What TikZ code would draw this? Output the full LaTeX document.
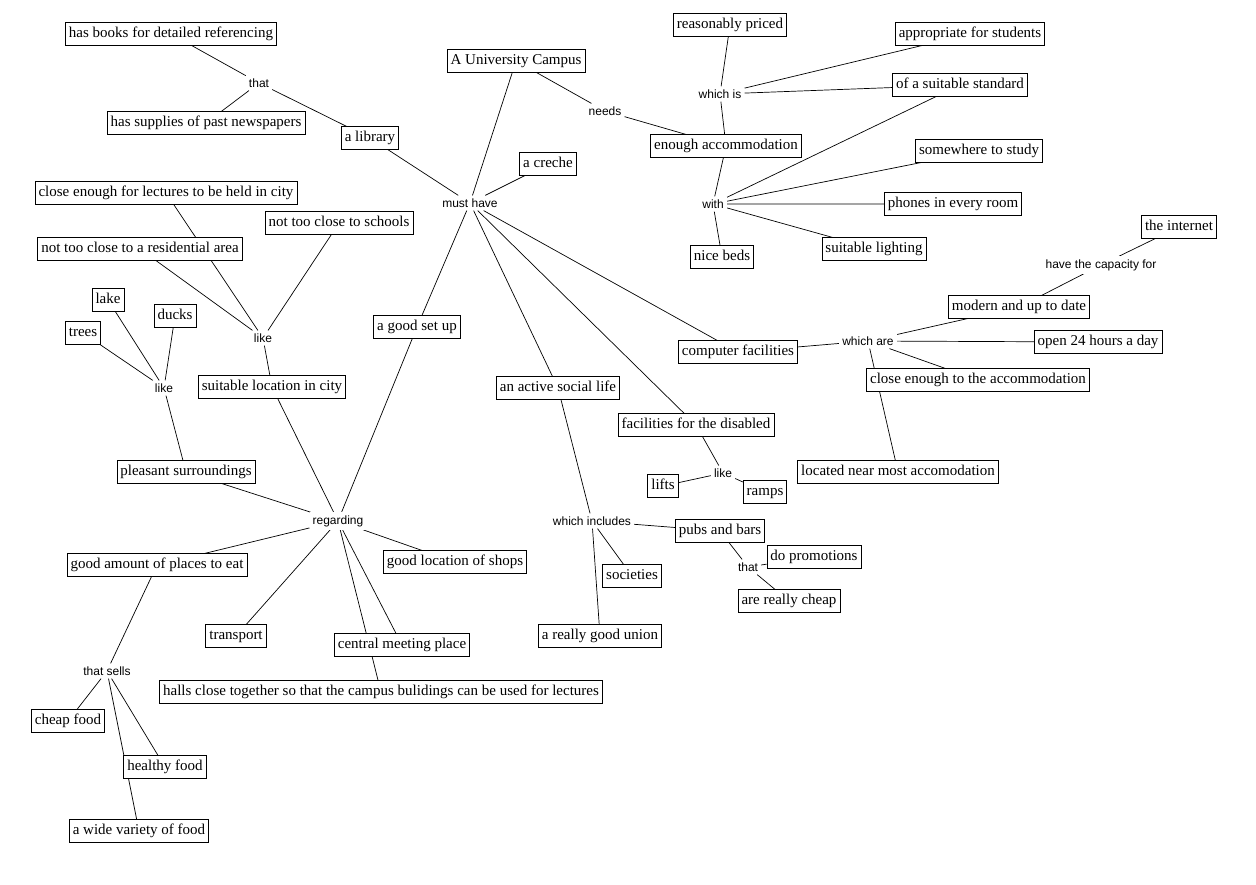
\documentclass[tikz,border=0pt]{standalone}
\usepackage{fontspec}
\setmainfont{Liberation Serif}
\setsansfont{Liberation Sans}
\usetikzlibrary{backgrounds}

\begin{document}
\begin{tikzpicture}[x=1pt,y=-1pt,
    concept/.style={draw,fill=white,line width=.7pt,font=\fontsize{15}{17}\selectfont,
        inner xsep=3.5pt,inner ysep=4pt,text height=11pt,text depth=3.5pt},
    link/.style={fill=white,font=\sffamily\fontsize{12}{14}\selectfont,inner sep=3pt},
    wire/.style={line width=.7pt}]
    \useasboundingbox (0,0) rectangle (1256,884);

    \node[concept] (campus) at (516,61) {A University Campus};
    \node[link] (musthave) at (470,203) {must have};
    \node[link] (needs) at (605,111) {needs};

    \node[concept] (books) at (171,34) {has books for detailed referencing};
    \node[concept] (supplies) at (206,123) {has supplies of past newspapers};
    \node[link] (thatA) at (259,83) {that};
    \node[concept] (library) at (370,138) {a library};
    \node[concept] (creche) at (548,164) {a creche};

    \node[concept] (accom) at (726,146) {enough accommodation};
    \node[link] (whichis) at (720,94) {which is};
    \node[concept] (priced) at (730,25) {reasonably priced};
    \node[concept] (students) at (970,34) {appropriate for students};
    \node[concept] (standard) at (960,85) {of a suitable standard};
    \node[link] (with) at (713,204) {with};
    \node[concept] (study) at (979,151) {somewhere to study};
    \node[concept] (phones) at (953,204) {phones in every room};
    \node[concept] (beds) at (722,257) {nice beds};
    \node[concept] (lighting) at (874,249) {suitable lighting};

    \node[concept] (computer) at (738,352) {computer facilities};
    \node[link] (whichare) at (868,341) {which are};
    \node[concept] (modern) at (1019,307) {modern and up to date};
    \node[link] (capacity) at (1101,265) {have the capacity for};
    \node[concept] (internet) at (1179,227) {the internet};
    \node[concept] (open) at (1098,342) {open 24 hours a day};
    \node[concept] (closeacc) at (978,380) {close enough to the accommodation};
    \node[concept] (located) at (898,472) {located near most accomodation};

    \node[concept] (lectures) at (166,193) {close enough for lectures to be held in city};
    \node[concept] (schools) at (339,223) {not too close to schools};
    \node[concept] (residential) at (140,249) {not too close to a residential area};
    \node[link] (likeA) at (263,338) {like};
    \node[concept] (location) at (272,387) {suitable location in city};
    \node[concept] (lake) at (108,300) {lake};
    \node[concept] (ducks) at (175,316) {ducks};
    \node[concept] (trees) at (83,333) {trees};
    \node[link] (likeB) at (164,388) {like};
    \node[concept] (pleasant) at (186,472) {pleasant surroundings};
    \node[concept] (setup) at (417,327) {a good set up};

    \node[link] (regarding) at (338,521) {regarding};
    \node[concept] (eat) at (157,565) {good amount of places to eat};
    \node[concept] (shops) at (455,562) {good location of shops};
    \node[concept] (transport) at (236,636) {transport};
    \node[concept] (meeting) at (402,645) {central meeting place};
    \node[concept] (halls) at (381,692) {halls close together so that the campus bulidings can be used for lectures};
    \node[link] (sells) at (107,671) {that sells};
    \node[concept] (cheapfood) at (68,721) {cheap food};
    \node[concept] (healthy) at (165,767) {healthy food};
    \node[concept] (variety) at (139,831) {a wide variety of food};

    \node[concept] (social) at (558,388) {an active social life};
    \node[link] (includes) at (592,521) {which includes};
    \node[concept] (pubs) at (720,531) {pubs and bars};
    \node[link] (thatB) at (748,567) {that};
    \node[concept] (promotions) at (814,557) {do promotions};
    \node[concept] (cheap) at (789,601) {are really cheap};
    \node[concept] (societies) at (632,576) {societies};
    \node[concept] (union) at (600,636) {a really good union};

    \node[concept] (disabled) at (696,425) {facilities for the disabled};
    \node[link] (likeC) at (723,473) {like};
    \node[concept] (lifts) at (663,486) {lifts};
    \node[concept] (ramps) at (765,492) {ramps};

    \begin{scope}[on background layer]
        \draw[wire] (books) -- (thatA) (supplies) -- (thatA) (thatA) -- (library) (library) -- (musthave);
        \draw[wire] (campus) -- (musthave) (campus) -- (needs) (needs) -- (accom);
        \draw[wire] (musthave) -- (creche) (musthave) -- (setup) (musthave) -- (social) (musthave) -- (disabled) (musthave) -- (computer);
        \draw[wire] (priced) -- (whichis) (whichis) -- (accom) (whichis) -- (students) (whichis) -- (standard);
        \draw[wire] (accom) -- (with) (with) -- (standard) (with) -- (study) (with) -- (phones) (with) -- (lighting) (with) -- (beds);
        \draw[wire] (computer) -- (whichare) (whichare) -- (modern) (whichare) -- (open) (whichare) -- (closeacc) (whichare) -- (located);
        \draw[wire] (modern) -- (capacity) (capacity) -- (internet);
        \draw[wire] (lectures) -- (likeA) (residential) -- (likeA) (schools) -- (likeA) (likeA) -- (location);
        \draw[wire] (lake) -- (likeB) (trees) -- (likeB) (ducks) -- (likeB) (likeB) -- (pleasant);
        \draw[wire] (setup) -- (regarding) (location) -- (regarding) (pleasant) -- (regarding);
        \draw[wire] (regarding) -- (eat) (regarding) -- (transport) (regarding) -- (meeting) (regarding) -- (halls) (regarding) -- (shops);
        \draw[wire] (eat) -- (sells) (sells) -- (cheapfood) (sells) -- (healthy) (sells) -- (variety);
        \draw[wire] (disabled) -- (likeC) (likeC) -- (lifts) (likeC) -- (ramps);
        \draw[wire] (social) -- (includes) (includes) -- (pubs) (includes) -- (societies) (includes) -- (union);
        \draw[wire] (pubs) -- (thatB) (thatB) -- (promotions) (thatB) -- (cheap);
    \end{scope}
\end{tikzpicture}
\end{document}
